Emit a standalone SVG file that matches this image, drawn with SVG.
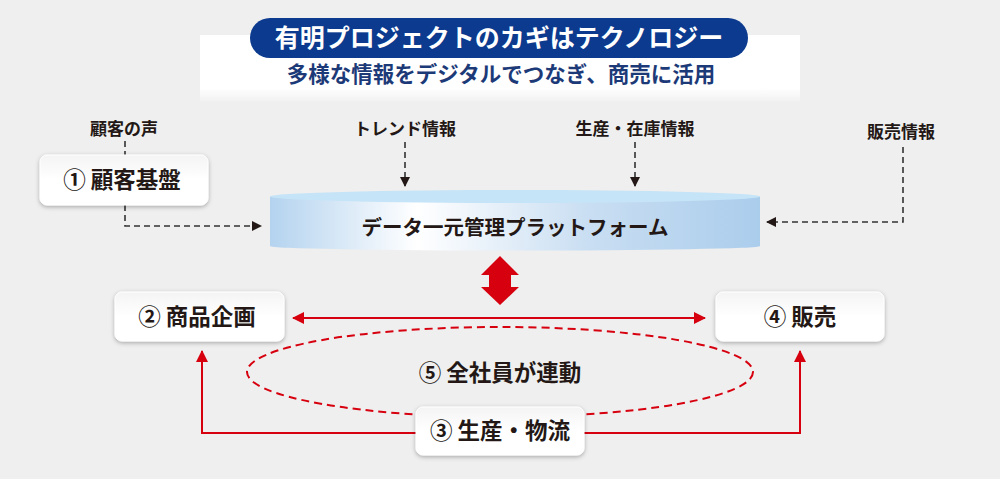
<svg xmlns="http://www.w3.org/2000/svg" width="1000" height="479" viewBox="0 0 1000 479">
<defs>
<style>
text{font-family:"Noto Sans CJK JP","Noto Sans",sans-serif;font-weight:700;}
.lbl{font-size:17px;fill:#231815;text-anchor:middle;}
.nt{font-size:22.5px;fill:#231815;text-anchor:middle;}
.dash{fill:none;stroke:#333;stroke-width:1.6;stroke-dasharray:6 4;}
.red{fill:none;stroke:#d7000f;stroke-width:2;}
.box{fill:url(#boxg);stroke:#fff;stroke-width:1;filter:url(#sh);}
</style>
<linearGradient id="boxg" x1="0" y1="0" x2="0" y2="1">
<stop offset="0" stop-color="#f4f4f4"/><stop offset="0.5" stop-color="#ffffff"/><stop offset="1" stop-color="#ffffff"/>
</linearGradient>
<linearGradient id="cylg" x1="0" y1="0" x2="1" y2="0">
<stop offset="0" stop-color="#b4d3ef"/><stop offset="0.3" stop-color="#ffffff"/><stop offset="0.65" stop-color="#c9def2"/><stop offset="1" stop-color="#abcdec"/>
</linearGradient>
<linearGradient id="bandg" x1="0" y1="0" x2="0" y2="1">
<stop offset="0" stop-color="#ffffff"/><stop offset="0.8" stop-color="#ffffff"/><stop offset="1" stop-color="#f2f2f2"/>
</linearGradient>
<filter id="sh" x="-10%" y="-20%" width="120%" height="150%">
<feDropShadow dx="0" dy="1.5" stdDeviation="2" flood-color="#000" flood-opacity="0.3"/>
</filter>
<marker id="ak" viewBox="0 0 10 10" refX="9" refY="5" markerWidth="10" markerHeight="10" markerUnits="userSpaceOnUse" orient="auto">
<path d="M0,0 L10,5 L0,10 z" fill="#231815"/>
</marker>
<marker id="ar" viewBox="0 0 12 12" refX="11" refY="6" markerWidth="12" markerHeight="12" markerUnits="userSpaceOnUse" orient="auto-start-reverse">
<path d="M0,0 L12,6 L0,12 z" fill="#d7000f"/>
</marker>
</defs>
<rect width="1000" height="479" fill="#efefef"/>
<g id="header">
<rect x="200" y="35" width="600" height="66" fill="url(#bandg)"/>
<rect x="250" y="18" width="498" height="40" rx="20" fill="#0b3a8e"/>
<text x="499" y="47" font-size="25" fill="#fff" text-anchor="middle">有明プロジェクトのカギはテクノロジー</text>
<text x="501" y="82" font-size="21.5" fill="#1d3a78" text-anchor="middle">多様な情報をデジタルでつなぎ、商売に活用</text>
</g>
<g id="connectors">
<path class="dash" d="M125,141 V155"/>
<path class="dash" d="M125,205 V226 H261" marker-end="url(#ak)"/>
<path class="dash" d="M405,142 V186" marker-end="url(#ak)"/>
<path class="dash" d="M635,142 V186" marker-end="url(#ak)"/>
<path class="dash" d="M903,147 V222 H767" marker-end="url(#ak)"/>
<path d="M500,256 L519,275 L511,275 L511,287 L519,287 L500,305 L481,287 L489,287 L489,275 L481,275 Z" fill="#d7000f"/>
<path class="red" d="M293,318 H705" marker-start="url(#ar)" marker-end="url(#ar)"/>
<path class="red" d="M416,433 H202 V351" marker-end="url(#ar)"/>
<path class="red" d="M584,433 H800 V351" marker-end="url(#ar)"/>
</g>
<g id="labels">
<text class="lbl" x="124" y="135">顧客の声</text>
<text class="lbl" x="405" y="135">トレンド情報</text>
<text class="lbl" x="635" y="135">生産・在庫情報</text>
<text class="lbl" x="901" y="138">販売情報</text>
</g>
<g id="node-platform">
<path d="M270,196.5 V246 A245,4.5 0 0 0 760,246 V196.5 Z" fill="url(#cylg)"/>
<ellipse cx="515" cy="196.5" rx="245" ry="6.5" fill="#c6e4f7"/>
<text x="515" y="235" font-size="20.5" fill="#231815" text-anchor="middle">データ一元管理プラットフォーム</text>
</g>
<g id="node-1">
<rect class="box" x="40" y="155" width="168" height="50" rx="7"/>
<text class="nt" x="122" y="188">① 顧客基盤</text>
</g>
<g id="node-2">
<rect class="box" x="115" y="292" width="169" height="49" rx="7"/>
<text class="nt" x="197" y="325">② 商品企画</text>
</g>
<g id="node-4">
<rect class="box" x="716" y="292" width="168" height="49" rx="7"/>
<text class="nt" x="800" y="325">④ 販売</text>
</g>
<g id="node-5">
<ellipse cx="500" cy="372" rx="253" ry="45" fill="none" stroke="#d7000f" stroke-width="2" stroke-dasharray="8 5"/>
<text class="nt" x="500" y="381">⑤ 全社員が連動</text>
</g>
<g id="node-3">
<rect class="box" x="416" y="407" width="168" height="48" rx="7"/>
<text class="nt" x="500" y="439">③ 生産・物流</text>
</g>
</svg>
